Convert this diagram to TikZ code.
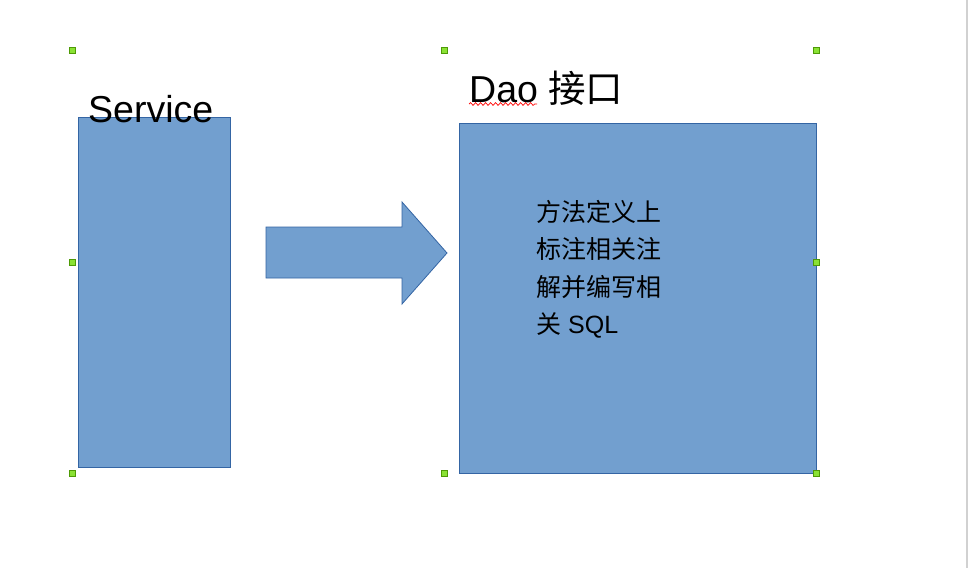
\documentclass[tikz,border=0pt]{standalone}
\usepackage{fontspec}
\setmainfont{Liberation Sans}
\newfontfamily\cjk{Noto Sans CJK SC}
\usetikzlibrary{decorations.pathmorphing}
\definecolor{boxfill}{HTML}{729FCF}
\definecolor{boxline}{HTML}{3465A4}
\definecolor{hfill}{HTML}{8AE234}
\definecolor{hline}{HTML}{4E9A06}
\tikzset{
  shapebox/.style={fill=boxfill, draw=boxline, line width=0.8pt},
  handle/.style={fill=hfill, draw=hline, line width=0.8pt, minimum size=6pt, inner sep=0pt, rectangle},
  bigtext/.style={font=\fontsize{37.5}{40}\selectfont, inner sep=0pt, anchor=base west},
}
\begin{document}
\begin{tikzpicture}[x=1pt,y=-1pt]
\useasboundingbox (0,0) rectangle (972,568);
\fill[white] (0,0) rectangle (972,568);
% right edge gray line
\draw[color=black!18, line width=2pt] (967,0) -- (967,568);
% left rectangle
\draw[shapebox] (78,117) rectangle (230,467);
\node[bigtext] (svc) at (88,122) {Service};
% right rectangle
\draw[shapebox] (459,123) rectangle (816,473);
\node[bigtext] (dao) at (469,102) {Dao {\cjk 接口}};
\coordinate (w1) at (469,104);
\coordinate (w2) at (537,104);
\draw[red, line width=0.7pt, decorate, decoration={snake, amplitude=1.4pt, segment length=5pt}] (w1) -- (w2);
% arrow
\draw[shapebox] (266,227) -- (402,227) -- (402,202) -- (447,253) -- (402,304) -- (402,278) -- (266,278) -- cycle;
% body text
\node[inner sep=0pt, anchor=north west, align=left, font=\fontsize{25}{37.5}\selectfont] (body) at (536,200)
  {{\cjk 方法定义上}\\{\cjk 标注相关注}\\{\cjk 解并编写相}\\{\cjk 关} SQL};
% handles
\foreach \n/\x/\y in {h1/72/50, h2/444/50, h3/816/50, h4/72/262, h5/816/262, h6/72/473, h7/444/473, h8/816/473}
  \node[handle] (\n) at (\x,\y) {};
\end{tikzpicture}
\end{document}
